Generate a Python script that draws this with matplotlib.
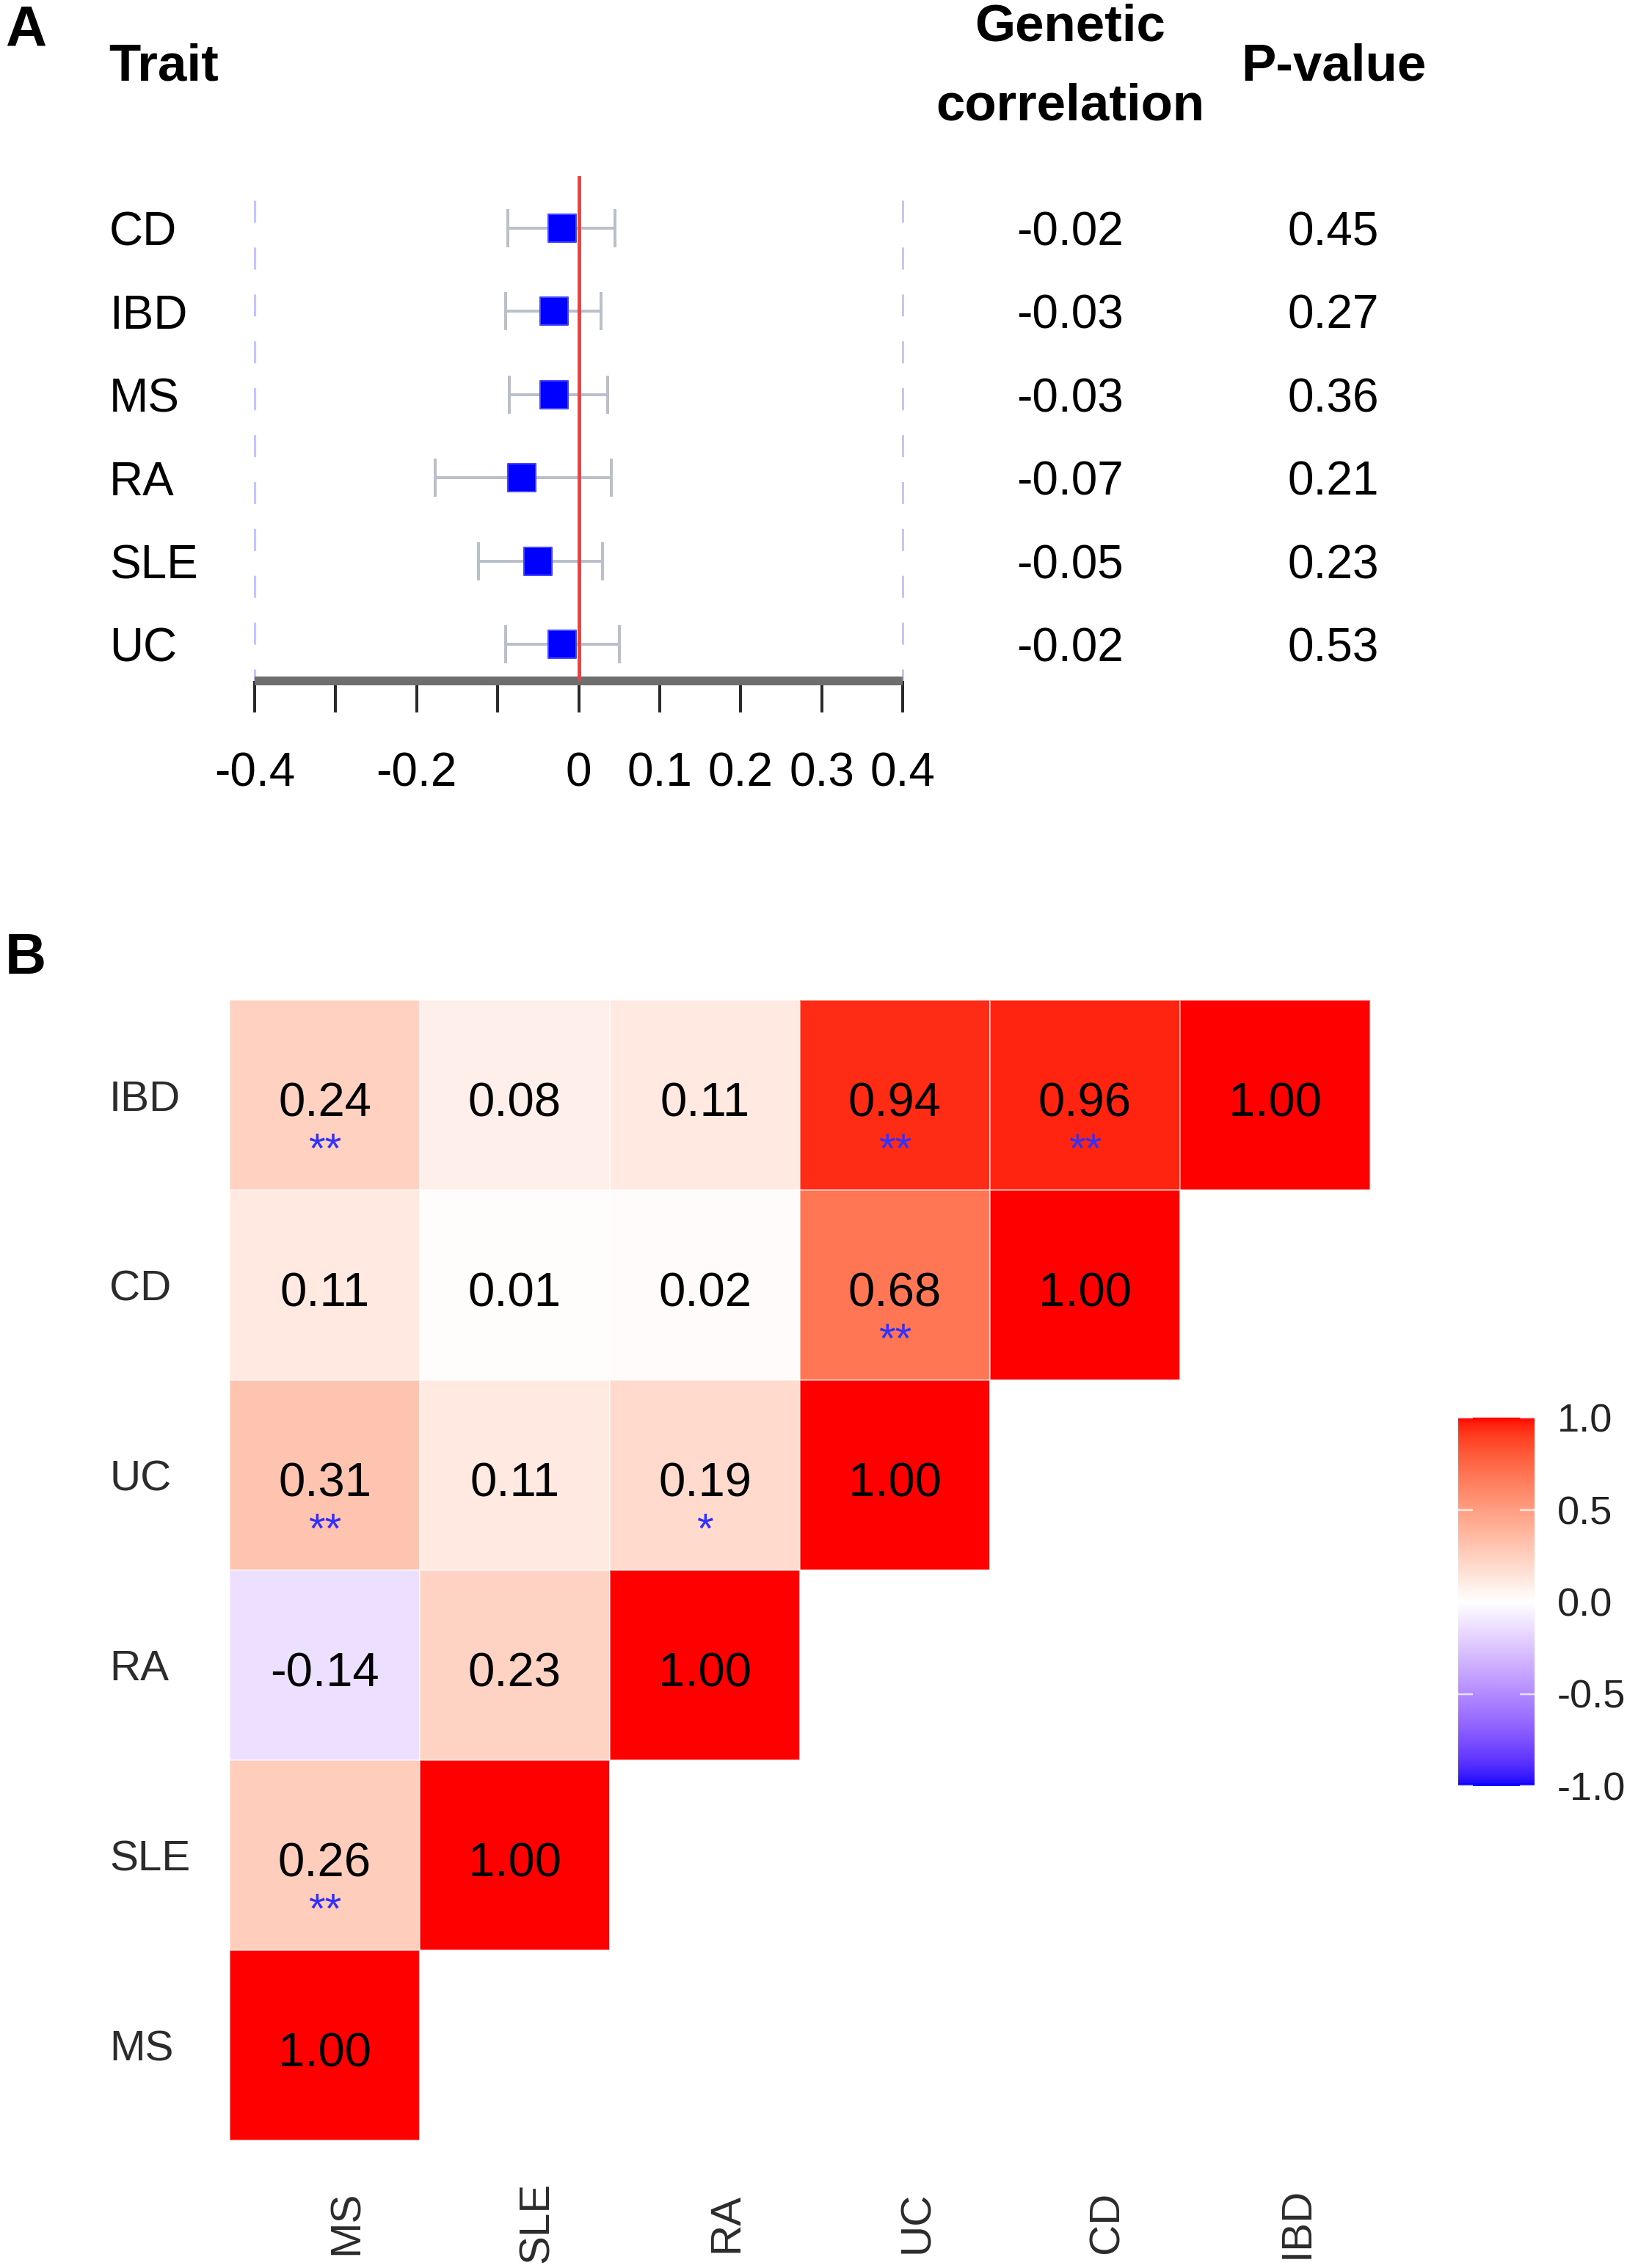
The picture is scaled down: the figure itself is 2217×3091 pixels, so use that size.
import numpy as np
import matplotlib
matplotlib.use('Agg')
import matplotlib.pyplot as plt
from matplotlib.colors import ListedColormap
import matplotlib.transforms as mtransforms

plt.rcParams['font.family'] = ['Liberation Sans', 'DejaVu Sans']
plt.rcParams['axes.unicode_minus'] = False

# ---------------- Panel A data ----------------
traits = ['CD', 'IBD', 'MS', 'RA', 'SLE', 'UC']
rg = [-0.02, -0.03, -0.03, -0.07, -0.05, -0.02]
ci_low = [-0.087, -0.090, -0.086, -0.177, -0.124, -0.090]
ci_high = [0.045, 0.028, 0.036, 0.040, 0.029, 0.050]
rg_text = ['-0.02', '-0.03', '-0.03', '-0.07', '-0.05', '-0.02']
p_text = ['0.45', '0.27', '0.36', '0.21', '0.23', '0.53']
a_ticks = [-0.4, -0.3, -0.2, -0.1, 0, 0.1, 0.2, 0.3, 0.4]
a_ticklabels = ['-0.4', '', '-0.2', '', '0', '0.1', '0.2', '0.3', '0.4']

# ---------------- Panel B data ----------------
row_traits = ['IBD', 'CD', 'UC', 'RA', 'SLE', 'MS']
col_traits = ['MS', 'SLE', 'RA', 'UC', 'CD', 'IBD']
corr_ibd = [0.24, 0.08, 0.11, 0.94, 0.96, 1.00]
corr_cd = [0.11, 0.01, 0.02, 0.68, 1.00]
corr_uc = [0.31, 0.11, 0.19, 1.00]
corr_ra = [-0.14, 0.23, 1.00]
corr_sle = [0.26, 1.00]
corr_ms = [1.00]
stars_ibd = ['**', '', '', '**', '**', '']
stars_cd = ['', '', '', '**', '']
stars_uc = ['**', '', '*', '']
stars_ra = ['', '', '']
stars_sle = ['**', '']
stars_ms = ['']
cbar_ticks = [-1.0, -0.5, 0.0, 0.5, 1.0]

# ---------------- colour map (Lab interpolation, like ggplot gradient2) ----------------
_M = np.array([[0.4124564, 0.3575761, 0.1804375],
               [0.2126729, 0.7151522, 0.0721750],
               [0.0193339, 0.1191920, 0.9503041]])
_WHITE = np.array([0.95047, 1.0, 1.08883])


def srgb_to_lab(c):
    c = np.asarray(c, float)
    lin = np.where(c <= 0.04045, c / 12.92, ((c + 0.055) / 1.055) ** 2.4)
    t = (_M @ lin) / _WHITE
    d = 6 / 29
    f = np.where(t > d ** 3, np.cbrt(t), t / (3 * d * d) + 4 / 29)
    return np.array([116 * f[1] - 16, 500 * (f[0] - f[1]), 200 * (f[1] - f[2])])


def lab_to_srgb(lab):
    L, a, b = lab
    fy = (L + 16) / 116
    f = np.array([fy + a / 500, fy, fy - b / 200])
    d = 6 / 29
    t = np.where(f > d, f ** 3, 3 * d * d * (f - 4 / 29))
    lin = np.linalg.solve(_M, t * _WHITE)
    lin = np.clip(lin, 0, 1)
    c = np.where(lin <= 0.0031308, 12.92 * lin, 1.055 * lin ** (1 / 2.4) - 0.055)
    return np.clip(c, 0, 1)


lab_lo = srgb_to_lab([0, 0, 1])
lab_mid = srgb_to_lab([1, 1, 1])
lab_hi = srgb_to_lab([1, 0, 0])
cols = []
for v in np.linspace(-1, 1, 256):
    if v < 0:
        lab = lab_lo + (v + 1) * (lab_mid - lab_lo)
    else:
        lab = lab_mid + v * (lab_hi - lab_mid)
    cols.append(lab_to_srgb(lab))
cmap = ListedColormap(cols)

# ---------------- figure ----------------
W, H, DPI = 2217, 3091, 100
pt = 72 / DPI
fig = plt.figure(figsize=(W / DPI, H / DPI), dpi=DPI)
fig.patch.set_facecolor('white')


def ax_px(l, t, r, b):
    return fig.add_axes([l / W, 1 - b / H, (r - l) / W, (b - t) / H])


# ================= Panel A =================
row0, rstep = 311.0, 113.4
axA_top, axA_bot = 240.0, 927.5
axA = ax_px(347, axA_top, 1230, axA_bot)
axA.set_xlim(-0.4, 0.4)
y_bot = (axA_bot - row0) / rstep
y_top = (axA_top - row0) / rstep
axA.set_ylim(y_bot, y_top)
for s in ['top', 'left', 'right']:
    axA.spines[s].set_visible(False)
axA.spines['bottom'].set_linewidth(12 * pt)
axA.spines['bottom'].set_color('#6e6e6e')
axA.spines['bottom'].set_capstyle('butt')
axA.patch.set_visible(False)

axA.set_xticks(a_ticks, a_ticklabels)
axA.tick_params(axis='x', direction='out', length=43 * pt, width=4 * pt,
                color='#2a2a2a', pad=54 * pt, labelsize=46, labelcolor='black')
ypos = np.arange(len(traits))
axA.set_yticks(ypos, traits)
axA.tick_params(axis='y', length=0, pad=(347 - 149) * pt, labelsize=46, labelcolor='black')
for lab in axA.get_yticklabels():
    lab.set_horizontalalignment('left')

# dashed reference lines at the axis limits
dash_top = (273 - row0) / rstep
axA.vlines([a_ticks[0], a_ticks[-1]], dash_top, y_bot, colors='#c4c4ff',
           linewidth=3 * pt, linestyles=(0, (10, 11.3)), clip_on=False, zorder=1)

rg_a = np.array(rg)
xerr = [rg_a - np.array(ci_low), np.array(ci_high) - rg_a]
axA.errorbar(rg_a, ypos, xerr=xerr, fmt='none', ecolor='#b9c0ca',
             elinewidth=4 * pt, capsize=26 * pt, capthick=4 * pt, zorder=2)
axA.scatter(rg_a, ypos, marker='s', s=(38 * pt) ** 2, color='#0000ff',
            edgecolors='#4646ff', linewidths=2 * pt, zorder=3)
axA.axvline(0, color='#ff3b3b', lw=5 * pt, zorder=5)

transA = mtransforms.blended_transform_factory(fig.transFigure, axA.transData)
for i in range(len(traits)):
    axA.text(1458 / W, i, rg_text[i], transform=transA, ha='center',
             va='center_baseline', fontsize=46, clip_on=False)
    axA.text(1817 / W, i, p_text[i], transform=transA, ha='center',
             va='center_baseline', fontsize=46, clip_on=False)

fig.text(148 / W, 1 - 110 / H, 'Trait', fontsize=51, weight='bold', ha='left', va='baseline')
fig.text(1458 / W, 1 - 55 / H, 'Genetic', fontsize=51, weight='bold', ha='center', va='baseline')
fig.text(1458 / W, 1 - 163 / H, 'correlation', fontsize=51, weight='bold', ha='center', va='baseline')
fig.text(1817 / W, 1 - 110 / H, 'P-value', fontsize=51, weight='bold', ha='center', va='baseline')

fig.text(7 / W, 1 - 63 / H, 'A', fontsize=56, weight='bold', ha='left', va='baseline')
fig.text(7 / W, 1 - 1327 / H, 'B', fontsize=56, weight='bold', ha='left', va='baseline')

# ================= Panel B =================
rows_vals = [corr_ibd, corr_cd, corr_uc, corr_ra, corr_sle, corr_ms]
rows_stars = [stars_ibd, stars_cd, stars_uc, stars_ra, stars_sle, stars_ms]
n = len(col_traits)
mat = np.full((n, n), np.nan)
for i, r in enumerate(rows_vals):
    mat[i, :len(r)] = r
mat_m = np.ma.masked_invalid(mat)

axB = ax_px(313, 1363, 1867, 2917)
mesh = axB.pcolormesh(np.arange(n + 1), np.arange(n + 1), mat_m, cmap=cmap,
                      vmin=-1, vmax=1, edgecolors=(1, 1, 1, 0.5), linewidth=1.5 * pt)
axB.set_xlim(0, n)
axB.set_ylim(n, 0)
for s in axB.spines.values():
    s.set_visible(False)
axB.set_xticks(np.arange(n) + 0.5, col_traits, rotation=90)
axB.tick_params(axis='x', length=0, pad=112 * pt, labelsize=42, labelcolor='#2b2b2b')
offx = mtransforms.ScaledTranslation(30 / DPI, 0, fig.dpi_scale_trans)
for lab in axB.get_xticklabels():
    lab.set_verticalalignment('center')
    lab.set_horizontalalignment('center')
    lab.set_transform(lab.get_transform() + offx)
axB.set_yticks(np.arange(n) + 0.5, row_traits)
axB.tick_params(axis='y', length=0, pad=(313 - 149) * pt, labelsize=42, labelcolor='#2b2b2b')
for lab in axB.get_yticklabels():
    lab.set_horizontalalignment('left')

for i, (r, st) in enumerate(zip(rows_vals, rows_stars)):
    for j, v in enumerate(r):
        axB.text(j + 0.5, i + 0.52, f'{v:.2f}', ha='center', va='center_baseline',
                 fontsize=47, color='black')
        if st[j]:
            axB.text(j + 0.5, i + 0.5 + 0.355, st[j], ha='center', va='baseline',
                     fontsize=42, color='#3030ff')

cax = ax_px(1987, 1932, 2091, 2434)
cb = fig.colorbar(mesh, cax=cax, ticks=cbar_ticks)
cb.outline.set_visible(False)
cb.minorticks_off()
cax.set_yticklabels([f'{t:.1f}' for t in cbar_ticks])
cax.tick_params(axis='y', which='major', left=True, right=True, direction='in',
                length=20 * pt, width=2.5 * pt, color=(1, 1, 1, 0.75),
                labelsize=39, labelcolor='#222222', pad=31 * pt)

fig.savefig('out.png', dpi=DPI, facecolor='white')
